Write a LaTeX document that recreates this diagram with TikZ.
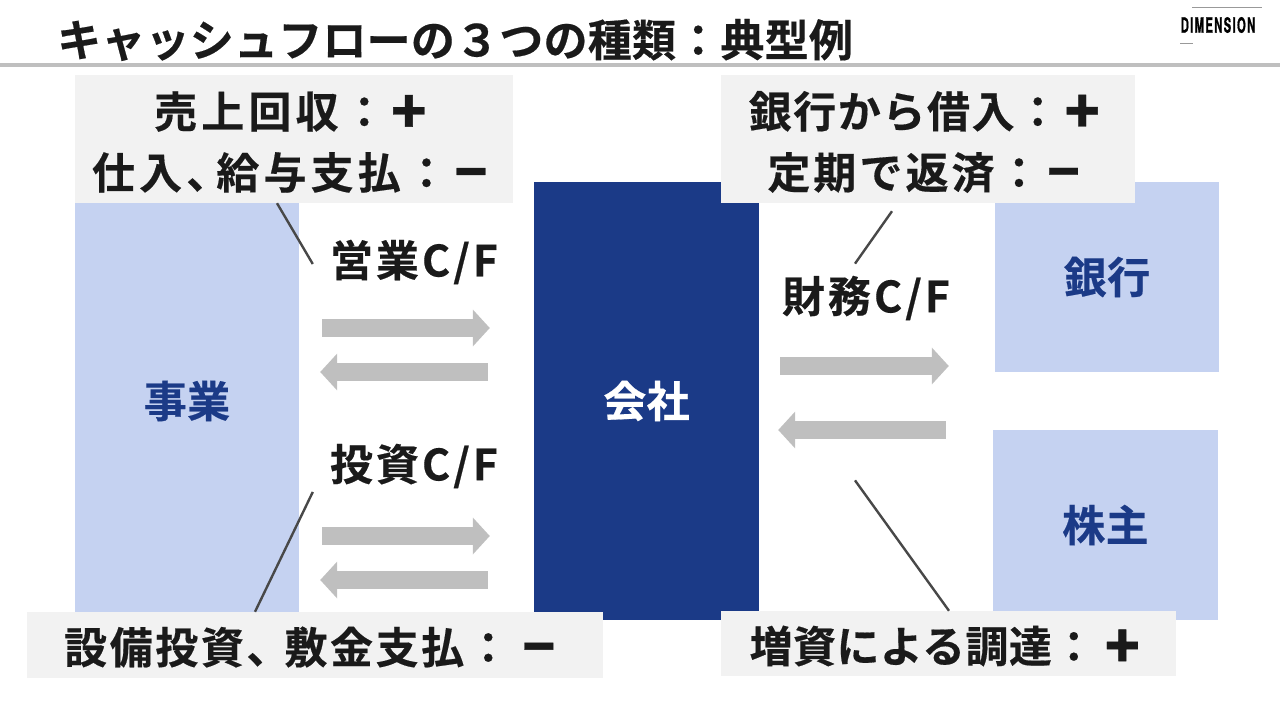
\documentclass[tikz,border=0pt]{standalone}
\usepackage{fontspec}
\setmainfont{Noto Sans CJK JP}[LetterSpace=7,BoldFont={Noto Sans CJK JP Bold},BoldFeatures={FakeBold=0.4}]
\newfontfamily\titlefont{Noto Sans CJK JP Bold}[LetterSpace=0.5,FakeBold=0.4]
\newfontfamily\logofont{TeX Gyre Heros Bold}[LetterSpace=12,FakeBold=1.2]
\newfontfamily\markfont{Noto Sans CJK JP}[FakeBold=0.7]
\usetikzlibrary{arrows.meta,positioning,calc}
\definecolor{navy}{HTML}{1B3A87}
\definecolor{paleblue}{HTML}{C5D2F1}
\definecolor{palegray}{HTML}{F2F2F2}
\definecolor{flowgray}{HTML}{BFBFBF}
\definecolor{ink}{HTML}{1A1A1A}
\newcommand{\plusmark}{\makebox[46pt]{\markfont\raisebox{-5pt}{\scalebox{1.35}{+}}}}
\newcommand{\minusmark}{\makebox[46pt]{\markfont\raisebox{-3pt}{\scalebox{1.25}{−}}}}
\newcommand{\spaced}[1]{\addfontfeature{LetterSpace=#1}}

\begin{document}
\begin{tikzpicture}[
  x=1pt, y=-1pt,
  font=\bfseries\fontsize{43}{61}\selectfont,
  party/.style={fill=paleblue, text=navy, inner sep=0pt, font=\bfseries\fontsize{43}{61}\selectfont\spaced{1}},
  core/.style={fill=navy, text=white, inner sep=0pt, font=\bfseries\fontsize{43}{61}\selectfont\spaced{1}},
  note/.style={fill=palegray, inner sep=0pt},
  notetext/.style={text=ink, inner sep=0pt, align=center},
  flowlabel/.style={text=ink, inner sep=0pt},
  flow/.style={-{Triangle[length=17pt,width=36pt]}, line width=18pt, draw=flowgray},
  leader/.style={line width=2.4pt, draw=ink!80},
]
\useasboundingbox (0,0) rectangle (1280,720);

% --- Title ---
\node[anchor=west, inner sep=0pt, text=ink, font=\titlefont\fontsize{44}{48}\selectfont] (title) at (57,40) {キャッシュフローの３つの種類：典型例};
\coordinate (ruleleft) at (0,65);
\coordinate (ruleright) at (1280,65);
\draw[line width=3.5pt, draw=flowgray] (ruleleft) -- (ruleright);

% --- Logo ---
\node[inner sep=0pt, text=black, xscale=0.535, transform shape, font=\logofont\fontsize{21}{21}\selectfont] (logo) at (1218,25) {DIMENSION};
\draw[line width=0.7pt, draw=gray!80] ($(logo.north)+(-26,-10)$) -- ($(logo.north)+(44,-10)$);
\draw[line width=0.7pt, draw=gray!80] ($(logo.south)+(-38,10)$) -- ($(logo.south)+(-25,10)$);

% --- Blocks ---
\node[party, minimum width=224pt, minimum height=438pt] (business) at (187,401) {事業};
\node[core, minimum width=225pt, minimum height=438pt] (company) at (646.5,401) {会社};
\node[party, minimum width=224pt, minimum height=190pt] (bank) at (1107,277) {銀行};
\node[party, minimum width=225pt, minimum height=190pt] (holder) at (1105.5,525) {株主};

% --- Notes ---
\node[note, minimum width=438pt, minimum height=128pt] (salesnote) at (294,139) {};
\node[notetext, font=\bfseries\fontsize{43}{61}\selectfont\spaced{9.7}] (salestext) at ($(salesnote.center)+(-1,3)$) {売上回収：\plusmark\\仕入、\kern-13pt 給与支払：\minusmark};
\node[note, minimum width=414pt, minimum height=128pt] (loannote) at (928,139) {};
\node[notetext] (loantext) at ($(loannote.center)+(-1,3)$) {{\spaced{3.7}銀行から借入：\plusmark}\\定期で返済：\minusmark};
\node[note, minimum width=576pt, minimum height=66pt] (capexnote) at (315,645) {};
\node[notetext, font=\bfseries\fontsize{43}{61}\selectfont\spaced{6}] (capextext) at ($(capexnote.center)+(-2,2)$) {設備投資、\kern-5pt 敷金支払：\kern6pt\minusmark};
\node[note, minimum width=455pt, minimum height=65pt] (equitynote) at (948.5,643.5) {};
\node[notetext, font=\bfseries\fontsize{43}{61}\selectfont\spaced{1}] (equitytext) at ($(equitynote.center)+(-1,3)$) {増資による調達：\kern4pt\plusmark};

% --- Flow labels ---
\node[flowlabel] (opcf) at (414,262) {営業C/F};
\node[flowlabel] (invcf) at (414,466) {投資C/F};
\node[flowlabel] (fincf) at (866,298) {財務C/F};

% --- Arrows left ---
\draw[flow] ($(business.east)+(23,-73)$) -- ($(company.west)+(-44,-73)$);
\draw[flow] ($(company.west)+(-46,-29)$) -- ($(business.east)+(21,-29)$);
\draw[flow] ($(business.east)+(23,135)$) -- ($(company.west)+(-44,135)$);
\draw[flow] ($(company.west)+(-46,179)$) -- ($(business.east)+(21,179)$);

% --- Arrows right ---
\draw[flow] ($(company.east)+(21,-35)$) -- ($(bank.west)+(-46,89)$);
\draw[flow] ($(holder.west)+(-47,-95)$) -- ($(company.east)+(19,29)$);

% --- Leaders ---
\draw[leader] ($(salesnote.south)+(-17,0)$) -- ($(opcf.west)+(-17,2)$);
\draw[leader] ($(invcf.west)+(-17,26)$) -- ($(capexnote.north)+(-60,0)$);
\draw[leader] ($(loannote.south)+(-36,8)$) -- ($(fincf.north)+(-11,-12)$);
\draw[leader] ($(equitynote.north)+(0.5,0)$) -- ($(fincf.south)+(-11,160)$);

\end{tikzpicture}
\end{document}
